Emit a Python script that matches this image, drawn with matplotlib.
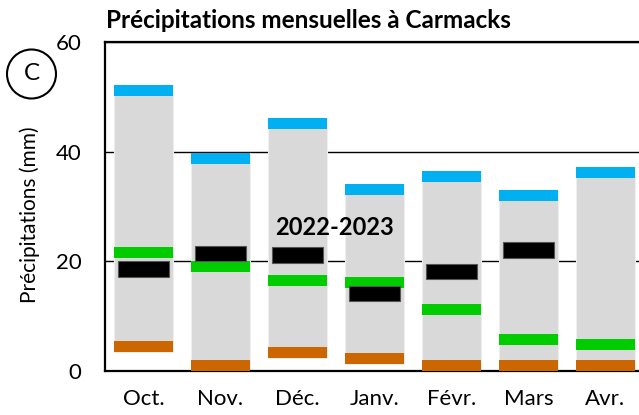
import matplotlib
matplotlib.use("Agg")
import matplotlib.pyplot as plt
from matplotlib.patches import Ellipse
import numpy as np

months = ["Oct.", "Nov.", "Déc.", "Janv.", "Févr.", "Mars", "Avr."]
max_vals = [52.1, 39.7, 46.1, 34.0, 36.5, 33.0, 37.1]     # top of blue band
min_vals = [3.4, 0.0, 2.3, 1.2, 0.0, 0.0, 0.0]            # bottom of orange band
normal_vals = [21.6, 19.1, 16.5, 16.1, 11.1, 5.7, 4.8]    # green
current_vals = [18.6, 21.4, 21.1, 14.1, 18.1, 22.1, np.nan]  # black, 2022-2023
y_ticks = [0, 20, 40, 60]

FONT = ["Lato", "DejaVu Sans"]
plt.rcParams['font.family'] = FONT

fig = plt.figure(figsize=(6.39, 4.15), dpi=100)
ax = fig.add_axes([105/639, (415-370.7)/415, (644-105)/639, (370.7-42)/415])

x = np.arange(len(months))
band = 2.0
w = 0.766
wb = 0.66

mx = np.array(max_vals)
mn = np.array(min_vals)
gray = "#d9d9d9"
ax.bar(x, mx - mn, bottom=mn, width=w, color=gray, edgecolor="#eeeeee", linewidth=0.8, zorder=2)
ax.bar(x, band, bottom=mx - band, width=w, color="#00b0f0", edgecolor="none", zorder=3)
ax.bar(x, band, bottom=mn, width=w, color="#cc6600", edgecolor="none", zorder=3)
nv = np.array(normal_vals)
ax.bar(x, band, bottom=nv - band/2, width=w, color="#00cc00", edgecolor="none", zorder=4)
cv = np.array(current_vals)
ok = ~np.isnan(cv)
ax.bar(x[ok], 2.9, bottom=cv[ok] - 1.45, width=wb, color="black", edgecolor="#555555", linewidth=0.8, zorder=5)

ax.text(2.48, 26.1, "2022-2023", ha="center", va="center", fontsize=17, fontweight="bold", zorder=6)

ax.set_xlim(-0.5, len(months) - 0.5)
ax.set_ylim(0, 60)
ax.set_yticks(y_ticks)
ax.set_xticks(x)
ax.set_xticklabels(months)
ax.tick_params(axis="both", length=0, labelsize=16)
ax.tick_params(axis="y", pad=17)
ax.tick_params(axis="x", pad=13)
ax.yaxis.grid(True, color="black", linewidth=1.0, zorder=1)
ax.set_axisbelow(True)
for s in ["left", "bottom", "top"]:
    ax.spines[s].set_linewidth(1.6)
ax.spines["right"].set_visible(False)

fig.text(30/639, (415-214.5)/415, "Précipitations (mm)", rotation=90, ha="center", va="center",
         fontsize=15)

fig.text(106/639, (415-20)/415, "Précipitations mensuelles à Carmacks", ha="left", va="center",
         fontsize=17.5, fontweight="bold")

fig.patches.append(Ellipse((31.5/639, (415-74)/415), 49/639, 49/415, transform=fig.transFigure,
                           fill=False, edgecolor="black", linewidth=1.5))
fig.text(31.5/639, (415-74)/415, "C", ha="center", va="center", fontsize=17.5)

fig.savefig("out.png", dpi=100)
